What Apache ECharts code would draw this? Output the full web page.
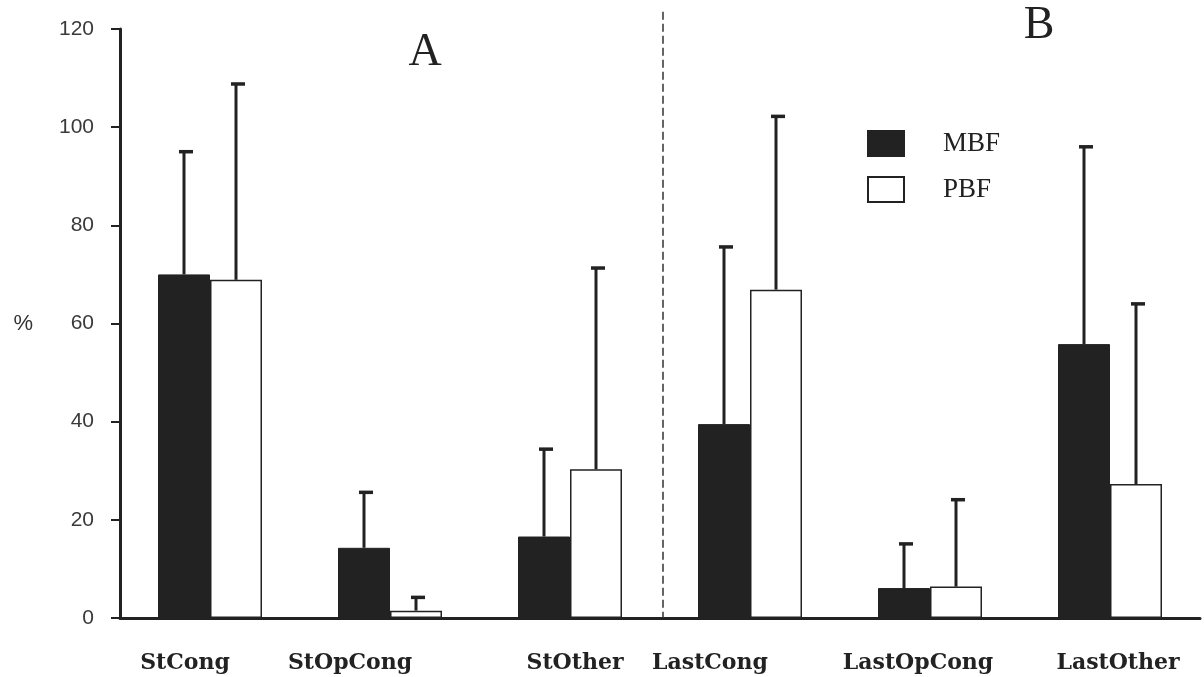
<!DOCTYPE html>
<html>
<head>
<meta charset="utf-8">
<script src="https://cdn.jsdelivr.net/npm/echarts@6/dist/echarts.min.js"></script>
<style>
html,body{margin:0;padding:0;background:#fff;}
#chart{width:1204px;height:677px;}
</style>
</head>
<body>
<div id="chart"></div>
<script>
const categories = ['StCong', 'StOpCong', 'StOther', 'LastCong', 'LastOpCong', 'LastOther'];
const mbfMean = [70, 14.3, 16.6, 39.5, 6.1, 55.8];
const mbfSD   = [25, 11.3, 17.8, 36.1, 9.0, 40.2];
const pbfMean = [68.9, 1.5, 30.3, 66.9, 6.4, 27.3];
const pbfSD   = [39.9, 2.7, 41.0, 35.3, 17.7, 36.7];
const yTicks = [0, 20, 40, 60, 80, 100, 120];

const INK = '#222';
const BAR_W = 52;
const labelShift = {StCong: -25, StOpCong: -40, StOther: 5, LastCong: -40, LastOpCong: -12, LastOther: 8};

const chart = echarts.init(document.getElementById('chart'), null, {renderer: 'canvas'});

function errRender(offset) {
  return function (params, api) {
    const idx = api.value(0);
    const mean = api.value(1);
    const sd = api.value(2);
    const p0 = api.coord([idx, mean]);
    const p1 = api.coord([idx, mean + sd]);
    const x = p0[0] + offset;
    return {
      type: 'group',
      children: [
        {type: 'line', shape: {x1: x, y1: p0[1], x2: x, y2: p1[1]}, style: {stroke: INK, lineWidth: 3}},
        {type: 'line', shape: {x1: x - 5, y1: p1[1], x2: x + 9, y2: p1[1]}, style: {stroke: INK, lineWidth: 3.5}}
      ]
    };
  };
}

const rich = {};
categories.forEach((c, i) => {
  const s = labelShift[c] || 0;
  rich['c' + i] = {
    fontFamily: 'DejaVu Serif', fontWeight: 'bold', fontSize: 22, color: INK,
    padding: s < 0 ? [0, -2 * s, 0, 0] : [0, 0, 0, 2 * s]
  };
});

const option = {
  animation: false,
  backgroundColor: '#fff',
  grid: {left: 120, right: 4, top: 29, bottom: 59},
  legend: {
    orient: 'vertical', left: 862, top: 125,
    icon: 'rect',
    itemWidth: 36, itemHeight: 25, itemGap: 19,
    textStyle: {fontFamily: 'Liberation Serif', fontSize: 27, lineHeight: 25, color: INK, padding: [0, 0, 0, 34]},
    data: ['MBF', 'PBF']
  },
  xAxis: {
    type: 'category',
    data: categories,
    boundaryGap: true,
    axisLine: {lineStyle: {color: INK, width: 3}},
    axisTick: {show: false},
    axisLabel: {
      margin: 34,
      formatter: function (v) { const i = categories.indexOf(v); return '{c' + i + '|' + v + '}'; },
      rich: rich
    },
    splitLine: {show: false}
  },
  yAxis: {
    type: 'value',
    min: 0, max: 120, interval: 20,
    name: '%',
    nameLocation: 'middle',
    nameRotate: 0,
    nameGap: 87,
    nameTextStyle: {fontFamily: 'Liberation Sans', fontSize: 22, color: '#333'},
    axisLine: {show: true, lineStyle: {color: INK, width: 3}},
    axisTick: {show: true, inside: false, length: 9, lineStyle: {color: INK, width: 2}},
    axisLabel: {
      margin: 26,
      fontFamily: 'Liberation Sans', fontSize: 21, color: '#3a3a3a',
      formatter: function (v) { return yTicks.indexOf(v) >= 0 ? String(v) : ''; }
    },
    splitLine: {show: false}
  },
  series: [
    {
      name: 'MBF', type: 'bar', barWidth: BAR_W, barGap: '0%',
      data: mbfMean,
      itemStyle: {color: INK, borderColor: INK, borderWidth: 1}
    },
    {
      name: 'PBF', type: 'bar', barWidth: BAR_W, barGap: '0%',
      data: pbfMean,
      itemStyle: {color: '#fff', borderColor: INK, borderWidth: 1.5}
    },
    {
      name: 'MBF err', type: 'custom',
      renderItem: errRender(-BAR_W / 2),
      data: mbfMean.map((m, i) => [i, m, mbfSD[i]]),
      encode: {x: 0, y: [1, 2]},
      z: 3
    },
    {
      name: 'PBF err', type: 'custom',
      renderItem: errRender(BAR_W / 2),
      data: pbfMean.map((m, i) => [i, m, pbfSD[i]]),
      encode: {x: 0, y: [1, 2]},
      z: 3
    }
  ]
};

chart.setOption(option);

// Divider between panel A and B, and panel letters
const xa = chart.convertToPixel({xAxisIndex: 0}, categories[2]);
const xb = chart.convertToPixel({xAxisIndex: 0}, categories[3]);
const xMid = (xa + xb) / 2 + 3;
const yTop = chart.convertToPixel({yAxisIndex: 0}, 123.5);
const yBot = chart.convertToPixel({yAxisIndex: 0}, 0);
chart.setOption({
  graphic: [
    {type: 'line', shape: {x1: xMid, y1: yTop, x2: xMid, y2: yBot}, style: {stroke: '#333', lineWidth: 1.5, lineDash: [8, 4]}, z: 1},
    {type: 'text', x: 425, y: 53, style: {text: 'A', fontFamily: 'Liberation Serif', fontSize: 46, fill: INK, textAlign: 'center', textVerticalAlign: 'middle'}},
    {type: 'text', x: 1039, y: 26, style: {text: 'B', fontFamily: 'Liberation Serif', fontSize: 46, fill: INK, textAlign: 'center', textVerticalAlign: 'middle'}}
  ]
});
</script>
</body>
</html>
